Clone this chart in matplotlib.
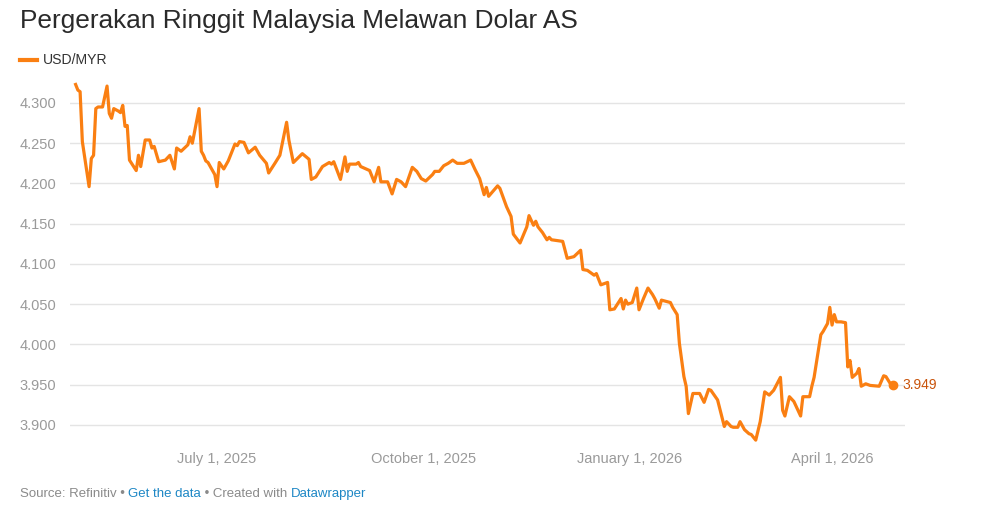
import numpy as np
import matplotlib
matplotlib.use("Agg")
import matplotlib.pyplot as plt
import pandas as pd

# Data (USD/MYR)
dates = [
    "2025-04-29", "2025-04-30", "2025-05-01", "2025-05-02", "2025-05-05", "2025-05-06",
    "2025-05-07", "2025-05-08", "2025-05-09", "2025-05-11", "2025-05-13", "2025-05-14",
    "2025-05-15", "2025-05-16", "2025-05-18", "2025-05-19", "2025-05-20", "2025-05-21",
    "2025-05-22", "2025-05-23", "2025-05-26", "2025-05-27", "2025-05-28", "2025-05-30",
    "2025-06-01", "2025-06-02", "2025-06-03", "2025-06-05", "2025-06-08", "2025-06-10",
    "2025-06-12", "2025-06-13", "2025-06-15", "2025-06-18", "2025-06-19", "2025-06-20",
    "2025-06-23", "2025-06-24", "2025-06-25", "2025-06-26", "2025-06-27", "2025-06-30",
    "2025-07-01", "2025-07-02", "2025-07-04", "2025-07-06", "2025-07-09", "2025-07-10",
    "2025-07-11", "2025-07-13", "2025-07-15", "2025-07-18", "2025-07-20", "2025-07-23",
    "2025-07-24", "2025-07-27", "2025-07-29", "2025-08-01", "2025-08-02", "2025-08-04",
    "2025-08-08", "2025-08-11", "2025-08-12", "2025-08-14", "2025-08-17", "2025-08-20",
    "2025-08-21", "2025-08-22", "2025-08-25", "2025-08-27", "2025-08-28", "2025-08-29",
    "2025-09-01", "2025-09-02", "2025-09-03", "2025-09-07", "2025-09-09", "2025-09-11",
    "2025-09-12", "2025-09-15", "2025-09-17", "2025-09-19", "2025-09-21", "2025-09-23",
    "2025-09-26", "2025-09-28", "2025-09-30", "2025-10-02", "2025-10-05", "2025-10-06",
    "2025-10-08", "2025-10-10", "2025-10-12", "2025-10-14", "2025-10-16", "2025-10-19",
    "2025-10-22", "2025-10-24", "2025-10-26", "2025-10-28", "2025-10-29", "2025-10-30",
    "2025-11-03", "2025-11-04", "2025-11-07", "2025-11-09", "2025-11-10", "2025-11-13",
    "2025-11-16", "2025-11-17", "2025-11-19", "2025-11-20", "2025-11-21", "2025-11-23",
    "2025-11-25", "2025-11-26", "2025-11-27", "2025-12-02", "2025-12-04", "2025-12-07",
    "2025-12-10", "2025-12-11", "2025-12-13", "2025-12-15", "2025-12-16", "2025-12-17",
    "2025-12-19", "2025-12-22", "2025-12-23", "2025-12-25", "2025-12-28", "2025-12-29",
    "2025-12-30", "2025-12-31", "2026-01-02", "2026-01-04", "2026-01-05", "2026-01-07",
    "2026-01-09", "2026-01-11", "2026-01-12", "2026-01-14", "2026-01-15", "2026-01-19",
    "2026-01-20", "2026-01-22", "2026-01-23", "2026-01-25", "2026-01-26", "2026-01-27",
    "2026-01-29", "2026-02-01", "2026-02-03", "2026-02-05", "2026-02-06", "2026-02-09",
    "2026-02-12", "2026-02-13", "2026-02-15", "2026-02-16", "2026-02-18", "2026-02-19",
    "2026-02-21", "2026-02-23", "2026-02-24", "2026-02-26", "2026-02-28", "2026-03-02",
    "2026-03-04", "2026-03-06", "2026-03-09", "2026-03-10", "2026-03-11", "2026-03-13",
    "2026-03-15", "2026-03-16", "2026-03-18", "2026-03-19", "2026-03-22", "2026-03-23",
    "2026-03-24", "2026-03-27", "2026-03-28", "2026-03-30", "2026-03-31", "2026-04-01",
    "2026-04-02", "2026-04-03", "2026-04-05", "2026-04-07", "2026-04-08", "2026-04-09",
    "2026-04-10", "2026-04-12", "2026-04-13", "2026-04-14", "2026-04-16", "2026-04-18",
    "2026-04-22", "2026-04-24", "2026-04-25", "2026-04-27", "2026-04-28",
]
usd_myr = [
    4.323, 4.316, 4.314, 4.252, 4.196, 4.231,
    4.235, 4.293, 4.295, 4.295, 4.321, 4.287,
    4.281, 4.293, 4.290, 4.288, 4.297, 4.271,
    4.272, 4.229, 4.216, 4.235, 4.221, 4.254,
    4.254, 4.244, 4.246, 4.227, 4.229, 4.235,
    4.218, 4.244, 4.240, 4.248, 4.258, 4.250,
    4.293, 4.240, 4.235, 4.228, 4.226, 4.211,
    4.196, 4.226, 4.218, 4.228, 4.249, 4.247,
    4.252, 4.251, 4.238, 4.245, 4.235, 4.225,
    4.213, 4.226, 4.235, 4.276, 4.254, 4.226,
    4.237, 4.230, 4.205, 4.208, 4.221, 4.226,
    4.224, 4.227, 4.205, 4.233, 4.215, 4.224,
    4.224, 4.226, 4.221, 4.216, 4.202, 4.220,
    4.202, 4.202, 4.187, 4.205, 4.202, 4.196,
    4.220, 4.215, 4.206, 4.203, 4.211, 4.215,
    4.215, 4.222, 4.225, 4.229, 4.225, 4.225,
    4.229, 4.217, 4.206, 4.186, 4.195, 4.184,
    4.197, 4.194, 4.171, 4.159, 4.137, 4.126,
    4.146, 4.160, 4.148, 4.153, 4.146, 4.139,
    4.130, 4.133, 4.130, 4.128, 4.107, 4.109,
    4.117, 4.093, 4.092, 4.088, 4.086, 4.088,
    4.074, 4.077, 4.043, 4.044, 4.057, 4.044,
    4.055, 4.050, 4.052, 4.070, 4.043, 4.057,
    4.070, 4.062, 4.057, 4.045, 4.055, 4.052,
    4.046, 4.037, 4.001, 3.960, 3.948, 3.914,
    3.939, 3.939, 3.928, 3.944, 3.943, 3.931,
    3.898, 3.904, 3.898, 3.897, 3.897, 3.904,
    3.894, 3.889, 3.888, 3.881, 3.904, 3.941,
    3.937, 3.943, 3.959, 3.918, 3.911, 3.935,
    3.929, 3.923, 3.911, 3.935, 3.935, 3.948,
    3.959, 4.012, 4.016, 4.026, 4.046, 4.024,
    4.037, 4.028, 4.028, 4.027, 3.972, 3.980,
    3.959, 3.964, 3.970, 3.948, 3.951, 3.949,
    3.948, 3.961, 3.960, 3.951, 3.949,
]
y_ticks = [3.900, 3.950, 4.000, 4.050, 4.100, 4.150, 4.200, 4.250, 4.300]
x_ticks = ["2025-07-01", "2025-10-01", "2026-01-01", "2026-04-01"]
x_labels = ["July 1, 2025", "October 1, 2025", "January 1, 2026", "April 1, 2026"]

plt.rcParams["font.family"] = ["Liberation Sans", "DejaVu Sans"]

orange = "#fa7f12"
grey = "#9a9a9a"

fig = plt.figure(figsize=(10, 5.19), dpi=100)
W, H = 1000, 519
# posisi axes dalam piksel
x0, x1 = 70, 905
y_top, y_bot = 74.8, 449.0
ax = fig.add_axes([x0 / W, 1 - y_bot / H, (x1 - x0) / W, (y_bot - y_top) / H])

d = pd.to_datetime(dates)
ax.plot(d, usd_myr, color=orange, lw=2.3, solid_joinstyle="round", zorder=3)
ax.plot(d[-1:], usd_myr[-1:], "o", color=orange, ms=6, zorder=4)
ax.annotate(f"{usd_myr[-1]:.3f}", (d[-1], usd_myr[-1]), xytext=(7, 0),
            textcoords="offset points", va="center", ha="left",
            fontsize=10, color="#c9530a")

base = pd.Timestamp("2025-07-01")
ax.set_xlim(base - pd.Timedelta(days=65.5), base + pd.Timedelta(days=306.5))
ax.set_ylim(3.87, 4.335)

ax.set_yticks(y_ticks)
ax.set_yticklabels([f"{v:.3f}" for v in y_ticks])
ax.set_xticks(pd.to_datetime(x_ticks))
ax.set_xticklabels(x_labels)
ax.tick_params(axis="both", length=0, colors=grey, labelsize=10.5)
ax.tick_params(axis="y", pad=10)
ax.tick_params(axis="x", pad=2)
ax.grid(axis="y", color="#e4e4e4", lw=1)
ax.set_axisbelow(True)
for s in ax.spines.values():
    s.set_visible(False)

fig.text(20 / W, 1 - 21 / H, "Pergerakan Ringgit Malaysia Melawan Dolar AS",
         fontsize=18.9, color="#2a2a2a", va="center", ha="left")
fig.lines.append(plt.Line2D([20 / W, 37 / W], [1 - 60 / H, 1 - 60 / H],
                            color=orange, lw=3, transform=fig.transFigure))
fig.text(43 / W, 1 - 60 / H, "USD/MYR", fontsize=10.1, color="#333333",
         va="center", ha="left")

# footer: potongan teks abu-abu dan biru
parts = [("Source: Refinitiv • ", "#8a8a8a"), ("Get the data", "#1d87c5"),
         (" • Created with ", "#8a8a8a"), ("Datawrapper", "#1d87c5")]
fig.canvas.draw()
r = fig.canvas.get_renderer()


def text_w(s):
    t = fig.text(0, 0, s, fontsize=9.5)
    w = t.get_window_extent(renderer=r).width
    t.remove()
    return w


bar_w = text_w("|")
prefix = ""
for txt, col in parts:
    start = text_w(prefix + "|") - bar_w if prefix else 0
    fig.text(20 / W + start / W, 1 - 494 / H, txt, fontsize=9.5, color=col,
             va="center", ha="left")
    prefix += txt

fig.savefig("out.png", dpi=100)
